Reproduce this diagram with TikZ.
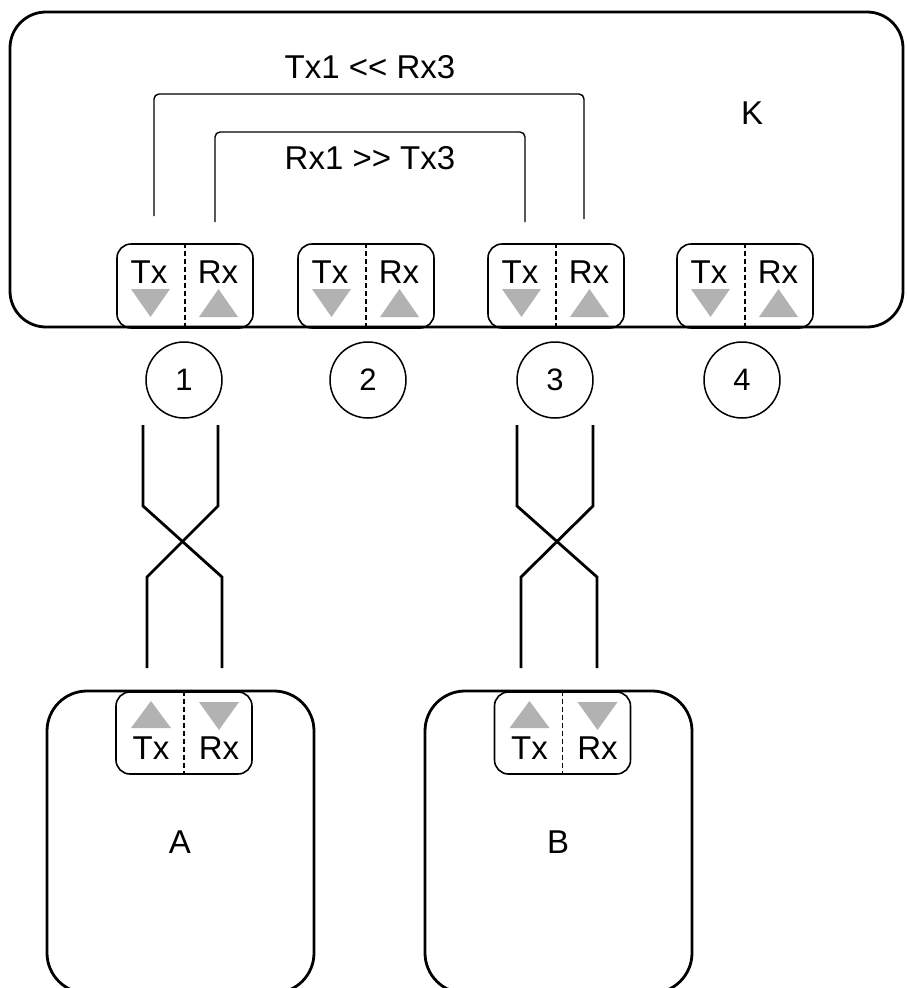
\documentclass[tikz,border=0pt]{standalone}
\usepackage{fontspec}
\setmainfont{Liberation Sans}
\usetikzlibrary{calc}
\begin{document}
\begin{tikzpicture}[x=1pt,y=-1pt,
  lbl/.style={inner sep=0pt,font=\fontsize{33}{38}\selectfont},
  big/.style={draw,line width=2.8pt,inner sep=0pt},
  port/.style={draw,line width=1.6pt,rounded corners=14pt,inner sep=0pt,minimum width=136pt,minimum height=84pt},
  num/.style={draw,circle,line width=1.5pt,inner sep=0pt,minimum size=76pt,font=\fontsize{31}{36}\selectfont},
  div/.style={line width=1.2pt,dash pattern=on 5pt off 3pt},
  tri/.style={fill=black!30},
  wire/.style={line width=2.8pt},
  link/.style={line width=1.4pt,rounded corners=5pt}]
\useasboundingbox (0,0) rectangle (907,988);
\clip (0,0) rectangle (907,988);
% K box
\node[big,rounded corners=36pt,minimum width=893pt,minimum height=315pt] (K) at (456.5,169.5) {};
\node[lbl] (Klab) at (752,113) {K};
% ports in K
\foreach \n/\x in {1/185,2/366,3/556,4/745}{
  \node[port] (p\n) at (\x,286) {};
  \draw[div] (p\n.north) -- (p\n.south);
  \node[lbl] (p\n tx) at ($(p\n.center)+(-36,-14)$) {Tx};
  \node[lbl] (p\n rx) at ($(p\n.center)+(33,-14)$) {Rx};
  \fill[tri] ($(p\n.center)+(-54,3)$) -- ($(p\n.center)+(-15,3)$) -- ($(p\n.center)+(-34.5,31)$) -- cycle;
  \fill[tri] ($(p\n.center)+(14,31)$) -- ($(p\n.center)+(53,31)$) -- ($(p\n.center)+(33.5,3)$) -- cycle;
}
% circles
\node[num] (c1) at (184,380) {1};
\node[num] (c2) at (368,380) {2};
\node[num] (c3) at (555,380) {3};
\node[num] (c4) at (742,380) {4};
% loop-back links
\coordinate (o1) at (154,216);
\coordinate (o2) at (584,219);
\coordinate (i1) at (215,222);
\coordinate (i2) at (525,222);
\draw[link] (o1) -- (154,94) -- (584,94) -- (o2);
\draw[link] (i1) -- (215,132) -- (525,132) -- (i2);
\node[lbl] (t1) at (370,67) {Tx1 <{}< Rx3};
\node[lbl] (t2) at (370,158) {Rx1 >{}> Tx3};
% devices A and B
\node[big,rounded corners=40pt,minimum width=267pt,minimum height=302pt] (A) at (180.5,842) {};
\node[big,rounded corners=40pt,minimum width=267pt,minimum height=302pt] (B) at (558.5,842) {};
\node[lbl] (Alab) at (180,842) {A};
\node[lbl] (Blab) at (558,842) {B};
\foreach \n/\x in {a/184,b/562.5}{
  \node[port,minimum height=82pt] (q\n) at (\x,733) {};
  \draw[div] (q\n.north) -- (q\n.south);
  \node[lbl] (q\n tx) at ($(q\n.center)+(-33,15)$) {Tx};
  \node[lbl] (q\n rx) at ($(q\n.center)+(35,15)$) {Rx};
  \fill[tri] ($(q\n.center)+(-53,-5)$) -- ($(q\n.center)+(-13,-5)$) -- ($(q\n.center)+(-33,-32)$) -- cycle;
  \fill[tri] ($(q\n.center)+(15,-31)$) -- ($(q\n.center)+(55,-31)$) -- ($(q\n.center)+(35,-3)$) -- cycle;
}
% crossover cables
\coordinate (w1a) at (143,425); \coordinate (w1b) at (222,668);
\coordinate (w1c) at (218,425); \coordinate (w1d) at (147,668);
\draw[wire] (w1a) -- (143,506) -- (222,577) -- (w1b);
\draw[wire] (w1c) -- (218,506) -- (147,577) -- (w1d);
\coordinate (w3a) at (517,425); \coordinate (w3b) at (597,668);
\coordinate (w3c) at (593,425); \coordinate (w3d) at (521,668);
\draw[wire] (w3a) -- (517,506) -- (597,577) -- (w3b);
\draw[wire] (w3c) -- (593,506) -- (521,577) -- (w3d);
\end{tikzpicture}
\end{document}
